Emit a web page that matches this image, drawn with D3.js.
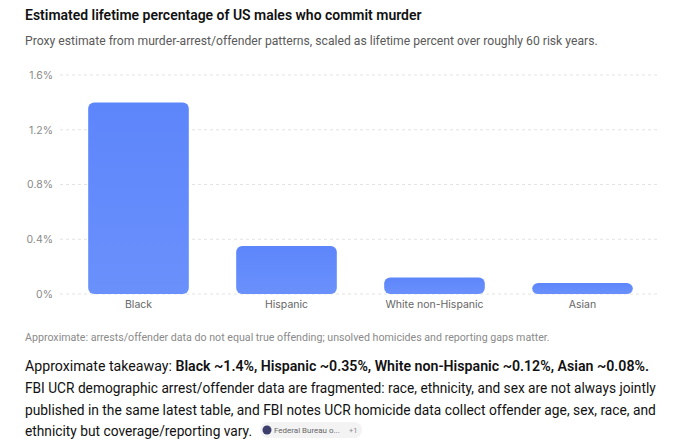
<!DOCTYPE html>
<html>
<head>
<meta charset="utf-8">
<script src="https://cdn.jsdelivr.net/npm/d3@7"></script>
<style>
  body { margin: 0; background: #fff; }
  svg { display: block; font-family: "Roboto", "Liberation Sans", sans-serif; }
</style>
</head>
<body>
<svg id="chart"></svg>
<script>
let w = 680;
let h = 444;

// data
let groups = ["Black", "Hispanic", "White non-Hispanic", "Asian"];
let lifetimePct = [1.4, 0.35, 0.12, 0.08];
let yTicks = [0, 0.4, 0.8, 1.2, 1.6];

let titleText = "Estimated lifetime percentage of US males who commit murder";
let subtitleText = "Proxy estimate from murder-arrest/offender patterns, scaled as lifetime percent over roughly 60 risk years.";
let noteText = "Approximate: arrests/offender data do not equal true offending; unsolved homicides and reporting gaps matter.";
let takeawayLines = [
  [["Approximate takeaway: ", false], ["Black ~1.4%, Hispanic ~0.35%, White non-Hispanic ~0.12%, Asian ~0.08%.", true]],
  [["FBI UCR demographic arrest/offender data are fragmented: race, ethnicity, and sex are not always jointly", false]],
  [["published in the same latest table, and FBI notes UCR homicide data collect offender age, sex, race, and", false]],
  [["ethnicity but coverage/reporting vary.", false]]
];
let takeawayEnds = [649, 656, 656, 252];
let sourceLabel = "Federal Bureau o...";
let sourceExtra = "+1";

let chart1 = d3.select("#chart")
  .attr("width", w)
  .attr("height", h);

// shrink/grow a text so it ends where the reference text ends
function fitTo(sel, right) {
  let x = +sel.attr("x");
  let len = sel.node().getComputedTextLength();
  let fs = +sel.attr("font-size");
  sel.attr("font-size", fs * (right - x) / len);
}

// titles
chart1.append("text")
  .attr("x", 25).attr("y", 20)
  .attr("font-size", 14.5).attr("font-weight", 600)
  .attr("fill", "#111")
  .text(titleText)
  .call(fitTo, 422);

chart1.append("text")
  .attr("x", 25).attr("y", 45)
  .attr("font-size", 11.6)
  .attr("fill", "#5a5a5a")
  .text(subtitleText)
  .call(fitTo, 598);

// scales
let xScale = d3.scaleBand()
  .domain(groups)
  .range([64.5, 656.5])
  .paddingInner(0.32)
  .paddingOuter(0.16);

let yScale = d3.scaleLinear()
  .domain([0, 1.6])
  .range([294, 75]);

// gridlines
chart1.append("g")
  .selectAll("line")
  .data(yTicks)
  .join("line")
  .attr("x1", 60).attr("x2", 660)
  .attr("y1", d => yScale(d)).attr("y2", d => yScale(d))
  .attr("stroke", "#e3e3e3")
  .attr("stroke-dasharray", "3,3");

// y axis
let yAxis = d3.axisLeft(yScale)
  .tickValues(yTicks)
  .tickSize(0)
  .tickPadding(0)
  .tickFormat(d => (d === 0 ? "0" : d3.format(".1f")(d)) + "%");

let yAxisGroup = chart1.append("g")
  .attr("transform", "translate(53, 0)")
  .call(yAxis);
yAxisGroup.select(".domain").remove();
yAxisGroup.selectAll("text")
  .attr("font-size", 10.5)
  .attr("fill", "#8a8a8a")
  .attr("font-family", "Inter, sans-serif");

// bars
let grad = chart1.append("defs").append("linearGradient")
  .attr("id", "barGrad")
  .attr("x1", 0).attr("y1", 0).attr("x2", 0).attr("y2", 1);
grad.append("stop").attr("offset", "0%").attr("stop-color", "#5d86fb");
grad.append("stop").attr("offset", "100%").attr("stop-color", "#6a90fb");

chart1.append("g")
  .selectAll("rect")
  .data(groups)
  .join("rect")
  .attr("x", d => xScale(d))
  .attr("width", xScale.bandwidth())
  .attr("y", (d, i) => yScale(lifetimePct[i]))
  .attr("height", (d, i) => yScale(0) - yScale(lifetimePct[i]))
  .attr("rx", 6).attr("ry", 6)
  .attr("fill", "url(#barGrad)");

// x axis
let xAxis = d3.axisBottom(xScale).tickSize(0).tickPadding(0);
let xAxisGroup = chart1.append("g")
  .attr("transform", "translate(0, 301)")
  .call(xAxis);
xAxisGroup.select(".domain").remove();
xAxisGroup.selectAll("text")
  .attr("font-size", 10.5)
  .attr("fill", "#666")
  .attr("font-family", "Inter, sans-serif");

// note
chart1.append("text")
  .attr("x", 25).attr("y", 341)
  .attr("font-size", 9.6)
  .attr("fill", "#8a8a8a")
  .text(noteText)
  .call(fitTo, 550);

// takeaway paragraph
let para = chart1.append("g");
takeawayLines.forEach((line, i) => {
  let t = para.append("text")
    .attr("x", 25).attr("y", 371 + i * 21.8)
    .attr("font-size", 13.6)
    .attr("fill", "#111");
  line.forEach(seg => {
    t.append("tspan")
      .attr("font-weight", seg[1] ? 600 : 400)
      .text(seg[0]);
  });
  t.call(fitTo, takeawayEnds[i]);
});

// source pill
let pill = chart1.append("g").attr("transform", "translate(260, 422)");
pill.append("rect")
  .attr("width", 102).attr("height", 16).attr("rx", 8)
  .attr("fill", "#f3f3f4");
pill.append("circle")
  .attr("cx", 7).attr("cy", 8).attr("r", 4.5)
  .attr("fill", "#3c3f6b");
pill.append("text")
  .attr("x", 14).attr("y", 11)
  .attr("font-size", 7.5).attr("fill", "#666")
  .text(sourceLabel)
  .call(fitTo, 80);
pill.append("text")
  .attr("x", 89).attr("y", 11)
  .attr("font-size", 7.5).attr("fill", "#888")
  .text(sourceExtra);
</script>
</body>
</html>
